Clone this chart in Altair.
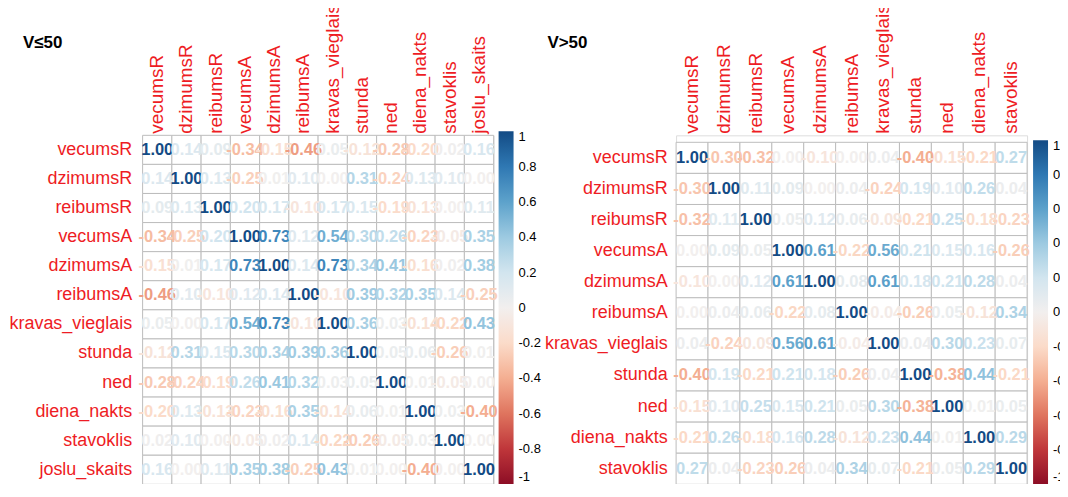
import altair as alt
import pandas as pd

# ---------------- data ----------------
vars_left = ["vecumsR", "dzimumsR", "reibumsR", "vecumsA", "dzimumsA", "reibumsA",
             "kravas_vieglais", "stunda", "ned", "diena_nakts", "stavoklis", "joslu_skaits"]
# upper triangle of the correlation matrix, row by row (starting at the diagonal)
corr_left_upper = [
    [1.00, 0.14, 0.09, -0.34, -0.15, -0.46, 0.05, -0.12, -0.28, -0.20, 0.02, 0.16],
    [1.00, 0.13, -0.25, 0.01, 0.10, 0.00, 0.31, -0.24, 0.13, 0.10, 0.00],
    [1.00, 0.20, 0.17, -0.10, 0.17, 0.15, -0.19, -0.13, 0.00, 0.11],
    [1.00, 0.73, 0.12, 0.54, 0.30, 0.26, -0.23, -0.05, 0.35],
    [1.00, 0.14, 0.73, 0.34, 0.41, -0.16, 0.02, 0.38],
    [1.00, -0.10, 0.39, 0.32, 0.35, 0.14, -0.25],
    [1.00, 0.36, 0.03, -0.14, -0.22, 0.43],
    [1.00, 0.05, 0.06, -0.26, 0.01],
    [1.00, 0.01, -0.05, 0.00],
    [1.00, 0.03, -0.40],
    [1.00, 0.00],
    [1.00],
]

vars_right = ["vecumsR", "dzimumsR", "reibumsR", "vecumsA", "dzimumsA", "reibumsA",
              "kravas_vieglais", "stunda", "ned", "diena_nakts", "stavoklis"]
corr_right_upper = [
    [1.00, -0.30, -0.32, 0.00, -0.10, 0.00, 0.04, -0.40, -0.15, -0.21, 0.27],
    [1.00, 0.11, 0.09, 0.00, 0.04, -0.24, 0.19, 0.10, 0.26, 0.04],
    [1.00, 0.05, 0.12, 0.06, -0.09, -0.21, 0.25, -0.18, -0.23],
    [1.00, 0.61, -0.22, 0.56, 0.21, 0.15, 0.16, -0.26],
    [1.00, 0.08, 0.61, 0.18, 0.21, 0.28, 0.04],
    [1.00, -0.04, -0.26, 0.05, -0.12, 0.34],
    [1.00, 0.04, 0.30, 0.23, 0.07],
    [1.00, -0.38, 0.44, -0.21],
    [1.00, 0.01, 0.05],
    [1.00, 0.29],
    [1.00],
]

legend_ticks = [1, 0.8, 0.6, 0.4, 0.2, 0, -0.2, -0.4, -0.6, -0.8, -1]

FONT = "Liberation Sans"
RED = "#ee1c24"


def to_frame(names, upper):
    n = len(names)
    m = [[0.0] * n for _ in range(n)]
    for i, row in enumerate(upper):
        for k, v in enumerate(row):
            j = i + k
            m[i][j] = v
            m[j][i] = v
    recs = []
    for i in range(n):
        for j in range(n):
            recs.append({"row": names[i], "col": names[j], "r": m[i][j],
                         "label": f"{m[i][j]:.2f}"})
    return pd.DataFrame(recs)


def panel(names, upper, title, w, h, ypad, y_outer, grad_len, leg_x, leg_y,
          title_dx, title_off):
    df = to_frame(names, upper)
    x = alt.X("col:N", sort=names, title=None,
              scale=alt.Scale(paddingInner=0, paddingOuter=0),
              axis=alt.Axis(orient="top", labelAngle=270, labelAlign="left",
                            labelBaseline="middle", labelFont=FONT, labelFontSize=19,
                            labelColor=RED, labelPadding=2, ticks=False, tickSize=0,
                            domain=False, grid=False, labelLimit=400))
    y = alt.Y("row:N", sort=names, title=None,
              scale=alt.Scale(paddingInner=0, paddingOuter=y_outer, align=1),
              axis=alt.Axis(orient="left", labelFont=FONT, labelFontSize=18,
                            labelColor=RED, labelPadding=ypad, ticks=False, tickSize=0,
                            domain=False, grid=False, labelLimit=400))
    base = alt.Chart(df)
    grid = base.mark_rect(fill="white", stroke="#bdbdbd", strokeWidth=1).encode(x=x, y=y)
    txt = base.mark_text(font=FONT, fontSize=16.5, fontWeight="bold").encode(
        x=x, y=y, text="label:N",
        color=alt.Color("r:Q", scale=alt.Scale(scheme="redblue", domain=[-1, 1]),
                        legend=alt.Legend(orient="none", legendX=leg_x, legendY=leg_y,
                                          direction="vertical", gradientLength=grad_len,
                                          gradientThickness=15, gradientStrokeWidth=0,
                                          values=legend_ticks, padding=0,
                                          labelExpr="'' + round(datum.value * 10) / 10",
                                          labelFont=FONT, labelFontSize=13,
                                          labelColor="black", labelOffset=5,
                                          title=None)))
    return alt.layer(grid, txt).properties(
        width=w, height=h,
        title=alt.Title(title, anchor="start", font=FONT, fontSize=17,
                        fontWeight="bold", color="black", offset=title_off,
                        dx=title_dx, dy=6))


left = panel(vars_left, corr_left_upper, "V≤50", 352, 350, 11, 0, 354, 357, -4, 14, -42)
right = panel(vars_right, corr_right_upper, "V>50", 352, 350, 9, 0.1123, 345, 358, 5, 3, -42)

chart = alt.hconcat(left, right, spacing=1).resolve_scale(
    color="independent").resolve_legend(color="independent").properties(
    padding={"left": 0, "top": -6, "right": -17, "bottom": -3}
).configure_view(strokeWidth=0).configure(background="white")

chart.save("out.html", embed_options={"renderer": "svg", "actions": False})
